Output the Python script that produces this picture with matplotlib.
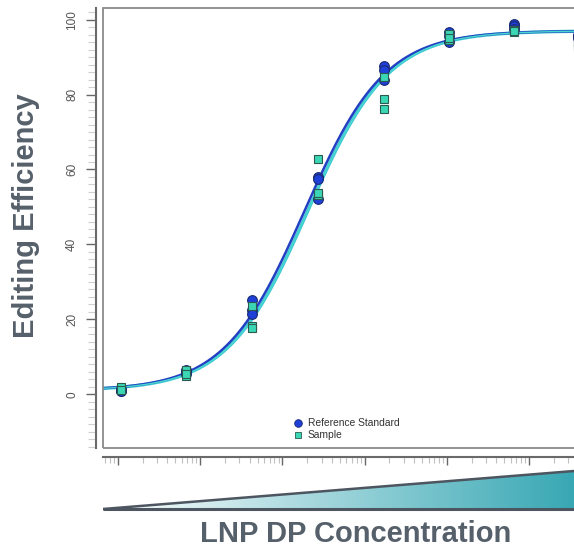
import numpy as np
import matplotlib.pyplot as plt
from matplotlib.patches import Rectangle, Polygon
from matplotlib.ticker import MultipleLocator, LogLocator, NullFormatter
from matplotlib.colors import LinearSegmentedColormap

plt.rcParams['font.family'] = ['Liberation Sans', 'DejaVu Sans']

# dose levels (arbitrary conc. units, log spaced)
conc = [1.1, 6.8, 43, 270, 1700, 10500, 65000, 400000]

# replicate readings, editing efficiency (%)
ref_vals = [[0.8, 1.5, 1.0],
            [6.0, 5.5, 6.5],
            [25.2, 22.5, 21.4],
            [58.0, 57.5, 52.0],
            [87.7, 86.6, 84.0],
            [96.8, 95.5, 94.1],
            [98.9, 98.2, 97.5],
            [96.0, 95.5, 95.0]]
smp_vals = [[1.5, 2.0, 1.2],
            [5.0, 6.5, 5.5],
            [23.6, 18.2, 17.6],
            [62.7, 53.3, 53.8],
            [84.8, 78.8, 76.1],
            [96.2, 94.6, 95.0],
            [97.3, 96.8, 97.0],
            [92.8, 94.0, 93.5]]

# 4PL fit parameters: bottom, top, log10 EC50, hill
ref_fit = [1.0, 97.0, 2.27, 0.89]
smp_fit = [1.0, 97.0, 2.31, 0.89]

grey_txt = "#56606b"
blue = "#1f40d8"
teal = "#3bd6b4"

def fourpl(x, p):
    b, t, c, h = p
    return b + (t - b) / (1 + 10 ** (h * (c - np.log10(x))))

W, H = 574, 550
fig = plt.figure(figsize=(W / 100, H / 100), dpi=100)
ax = fig.add_axes([103 / W, (H - 447.5) / H, (620 - 103) / W, (447.5 - 8) / H])

ax.set_xscale("log")
x0 = 10 ** (-15 / 82.2)
x1 = 10 ** ((620 - 118) / 82.2)
ax.set_xlim(x0, x1)
ax.set_ylim(-14.2, 103.1)

xs = np.logspace(np.log10(x0), np.log10(x1), 400)
ax.plot(xs, fourpl(xs, smp_fit), color="#3cc9d4", lw=2.4, zorder=2)
ax.plot(xs, fourpl(xs, ref_fit), color="#2340c4", lw=1.8, zorder=2)
ax.plot(xs, fourpl(xs, smp_fit), color="#49d6cf", lw=1.0, zorder=2)

for c, rv, sv in zip(conc, ref_vals, smp_vals):
    ax.plot([c] * len(rv), rv, "o", ms=7, mfc=blue, mec="#1a2a70", mew=0.8, zorder=3, ls="none")
    ax.plot([c] * len(sv), sv, "s", ms=6.3, mfc=teal, mec="#2a5a50", mew=0.8, zorder=4, ls="none")

# box around plot region, detached axes (R style)
ax.add_patch(Rectangle((0, 0), 1, 1, transform=ax.transAxes, fill=False,
                       ec="#8a8a8a", lw=1.3, clip_on=False, zorder=5))
for s in ["top", "right"]:
    ax.spines[s].set_visible(False)
ax.spines["left"].set_position(("outward", 5))
ax.spines["bottom"].set_position(("outward", 7))
ax.spines["left"].set_color("#6a6a6a")
ax.spines["bottom"].set_color("#6a6a6a")
ax.spines["left"].set_linewidth(1.5)
ax.spines["bottom"].set_linewidth(1.5)

ax.yaxis.set_major_locator(MultipleLocator(20))
ax.yaxis.set_minor_locator(MultipleLocator(2))
ax.tick_params(axis="y", which="major", length=7, width=1, color="#666666",
               labelsize=8.5, labelcolor="#555555", pad=6, labelrotation=90)
ax.tick_params(axis="y", which="minor", length=6, width=0.8, color="#d0d0d0")
for lab in ax.get_yticklabels():
    lab.set_va("center")

ax.xaxis.set_major_locator(LogLocator(base=10, numticks=20))
ax.xaxis.set_minor_locator(LogLocator(base=10, subs=np.arange(2, 10), numticks=20))
ax.xaxis.set_major_formatter(NullFormatter())
ax.xaxis.set_minor_formatter(NullFormatter())
ax.tick_params(axis="x", which="major", length=6, width=1, color="#666666")
ax.tick_params(axis="x", which="minor", length=4.5, width=0.8, color="#c0c0c0")

# legend
h1, = ax.plot([], [], "o", ms=5.5, mfc=blue, mec="#1a2a70", mew=0.6, ls="none")
h2, = ax.plot([], [], "s", ms=4.5, mfc=teal, mec="#2a5a50", mew=0.6, ls="none")
ax.legend([h1, h2], ["Reference Standard", "Sample"], frameon=False,
          loc="upper left", bbox_to_anchor=(287 / W, (H - 413) / H),
          bbox_transform=fig.transFigure, fontsize=7.4, handletextpad=0.3,
          labelspacing=0.2, borderpad=0, handlelength=1.2, labelcolor="#333333")

fig.text(26 / W, (H - 216) / H, "Editing Efficiency", rotation=90, ha="center",
         va="center", fontsize=21, fontweight="bold", color=grey_txt)

# concentration wedge
wx = fig.add_axes([103 / W, (H - 512) / H, (574 - 103) / W, 45 / H])
wx.set_xlim(0, 1)
wx.set_ylim(0, 1)
wx.axis("off")
yb = 3 / 45
yt = 41 / 45
grad = np.linspace(0, 1, 256).reshape(1, -1)
cmap = LinearSegmentedColormap.from_list("w2t", ["#ffffff", "#38a8b4"])
im = wx.imshow(grad, extent=[0, 1, 0, 1], aspect="auto", cmap=cmap, origin="lower")
tri = Polygon([[0, yb], [1, yb], [1, yt]], closed=True, transform=wx.transData)
im.set_clip_path(tri)
wx.plot([0, 1.01], [yb, yb], color="#4d5660", lw=2.2, solid_capstyle="butt")
wx.plot([0, 1.01], [yb, yt + 0.01 * (yt - yb)], color="#4d5660", lw=1.8)

fig.text(356 / W, (H - 534) / H, "LNP DP Concentration", ha="center", va="center",
         fontsize=21, fontweight="bold", color=grey_txt)

fig.savefig("out.png", dpi=100)
